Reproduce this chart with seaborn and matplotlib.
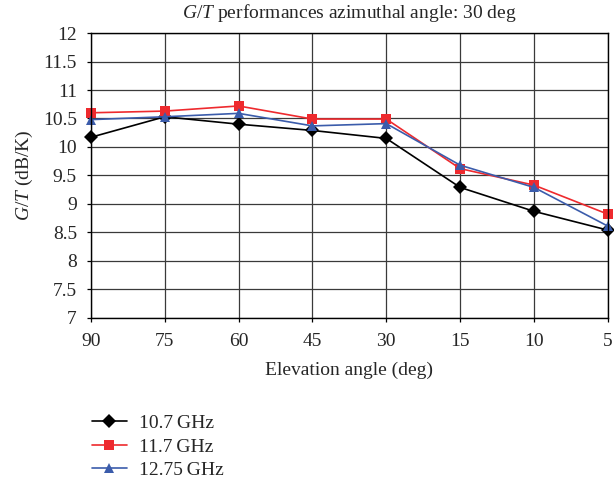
import pandas as pd
import numpy as np
import seaborn as sns
import matplotlib.pyplot as plt

elevation = ['90', '75', '60', '45', '30', '15', '10', '5']
gt_107 = [10.17, 10.53, 10.40, 10.29, 10.15, 9.29, 8.87, 8.54]
gt_117 = [10.60, 10.63, 10.72, 10.49, 10.49, 9.62, 9.33, 8.82]
gt_1275 = [10.48, 10.53, 10.59, 10.37, 10.41, 9.68, 9.29, 8.61]
series_names = ['10.7\u2009GHz', '11.7\u2009GHz', '12.75\u2009GHz']

df = pd.DataFrame({
    'elevation': elevation * 3,
    'gt': gt_107 + gt_117 + gt_1275,
    'freq': [n for n in series_names for _ in elevation],
})

sns.set_style('white')
plt.rcParams['font.family'] = ['Liberation Serif', 'DejaVu Serif']
plt.rcParams['mathtext.fontset'] = 'custom'
plt.rcParams['mathtext.rm'] = 'Liberation Serif'
plt.rcParams['mathtext.it'] = 'Liberation Serif:italic'

fig = plt.figure(figsize=(6.14, 4.86), dpi=100)
ax = fig.add_axes([0.148, 0.346, 0.842, 0.586])

palette = {series_names[0]: 'black', series_names[1]: '#ee2a2e', series_names[2]: '#3b5cab'}
markers = {series_names[0]: 'D', series_names[1]: 's', series_names[2]: '^'}

sns.lineplot(data=df, x='elevation', y='gt', hue='freq', style='freq',
             palette=palette, markers=markers, dashes=False, sort=False,
             markersize=7, linewidth=1.2, markeredgewidth=0, ax=ax, legend=False)
for ln in ax.lines:
    ln.set_clip_on(False)

ax.set_xlim(0, len(elevation) - 1)
ax.set_ylim(7, 12)
ax.set_yticks(np.arange(7, 12.01, 0.5))
ax.set_yticklabels(['7', '7.5', '8', '8.5', '9', '9.5', '10', '10.5', '11', '11.5', '12'])
ax.grid(True, color='#3a3a3a', linewidth=0.9)
ax.set_axisbelow(True)
for s in ax.spines.values():
    s.set_color('black')
    s.set_linewidth(1)
ax.tick_params(axis='both', direction='out', length=3, width=0.9, color='black',
               labelsize=14, left=True, bottom=True)
ax.tick_params(axis='y', pad=7)
ax.tick_params(axis='x', pad=8)

ax.set_xlabel('Elevation angle (deg)', fontsize=14, labelpad=8)
ax.set_ylabel('$G/T$ (dB/K)', fontsize=14, labelpad=6)
ax.set_title('$G/T$ performances azimuthal angle: 30 deg', fontsize=14, pad=11)

handles = [plt.Line2D([], [], color=palette[n], marker=markers[n], markersize=7,
                      markeredgewidth=0, linewidth=1.2) for n in series_names]
fig.legend(handles, series_names, loc='upper left', bbox_to_anchor=(0.137, 0.163),
           frameon=False, fontsize=14, handlelength=1.8, labelspacing=0.3,
           handletextpad=0.6, borderaxespad=0)

fig.savefig('out.png', dpi=100)
